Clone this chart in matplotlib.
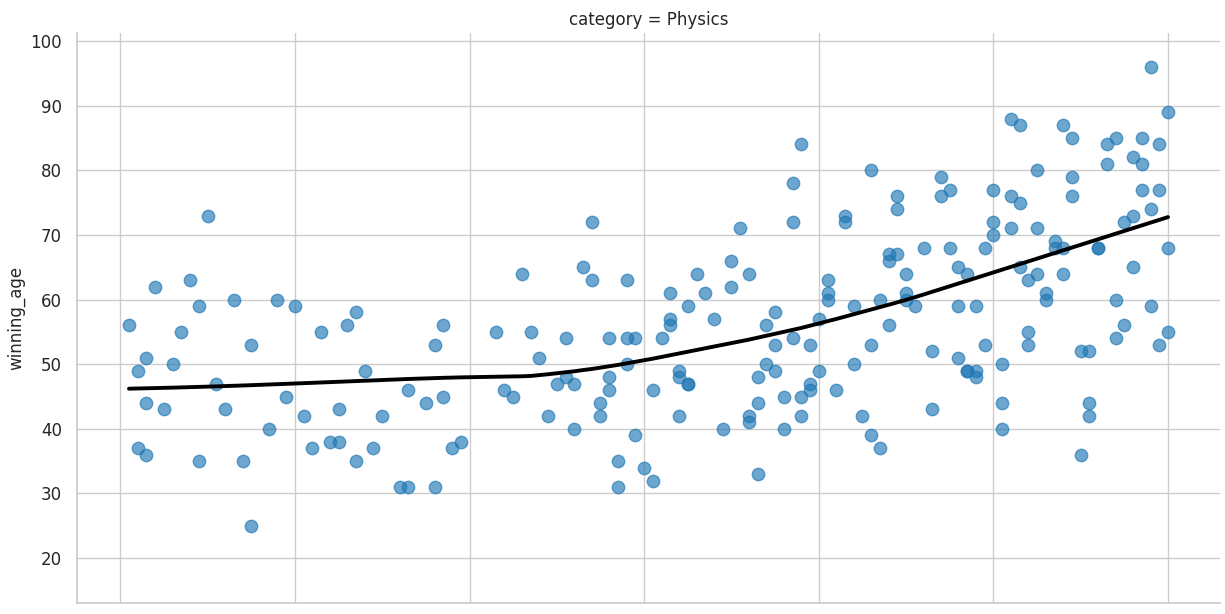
import numpy as np
import matplotlib
matplotlib.use('Agg')
import matplotlib.pyplot as plt
import seaborn as sns

# Nobel prize, Physics: year of award and age of the winner
year = [1901, 1902, 1902, 1903, 1903, 1903, 1904, 1905, 1906, 1907, 1908, 1909, 1909,
        1910, 1911, 1912, 1913, 1914, 1915, 1915, 1917, 1918, 1919, 1920, 1921, 1922,
        1923, 1924, 1925, 1925, 1926, 1927, 1927, 1928, 1929, 1930, 1932, 1933, 1933,
        1935, 1936, 1936, 1937, 1937, 1938, 1939, 1943, 1944, 1945, 1946, 1947, 1948,
        1949, 1950, 1951, 1951, 1952, 1952, 1953, 1954, 1954, 1955, 1955, 1956, 1956,
        1956, 1957, 1957, 1958, 1958, 1958, 1959, 1959, 1960, 1961, 1961, 1962, 1963,
        1963, 1963, 1964, 1964, 1964, 1965, 1965, 1965, 1966, 1967, 1968, 1969, 1970,
        1970, 1971, 1972, 1972, 1972, 1973, 1973, 1973, 1974, 1974, 1975, 1975, 1975,
        1976, 1976, 1977, 1977, 1977, 1978, 1978, 1978, 1979, 1979, 1979, 1980, 1980,
        1981, 1981, 1981, 1982, 1983, 1983, 1984, 1984, 1985, 1986, 1986, 1986, 1987,
        1987, 1988, 1988, 1988, 1989, 1989, 1989, 1990, 1990, 1990, 1991, 1992, 1993,
        1993, 1994, 1994, 1995, 1995, 1996, 1996, 1996, 1997, 1997, 1997, 1998, 1998,
        1998, 1999, 1999, 2000, 2000, 2000, 2001, 2001, 2001, 2002, 2002, 2002, 2003,
        2003, 2003, 2004, 2004, 2004, 2005, 2005, 2005, 2006, 2006, 2007, 2007, 2008,
        2008, 2008, 2009, 2009, 2009, 2010, 2010, 2011, 2011, 2011, 2012, 2012, 2013,
        2013, 2014, 2014, 2014, 2015, 2015, 2016, 2016, 2016, 2017, 2017, 2017, 2018,
        2018, 2018, 2019, 2019, 2019, 2020, 2020, 2020]
winning_age = [56, 49, 37, 51, 44, 36, 62, 43, 50, 55, 63, 59, 35,
               73, 47, 43, 60, 35, 53, 25, 40, 60, 45, 59, 42, 37,
               55, 38, 43, 38, 56, 58, 35, 49, 37, 42, 31, 46, 31,
               44, 53, 31, 56, 45, 37, 38, 55, 46, 45, 64, 55, 51,
               42, 47, 54, 48, 47, 40, 65, 72, 63, 44, 42, 54, 48,
               46, 35, 31, 63, 54, 50, 54, 39, 34, 46, 32, 54, 61,
               57, 56, 49, 48, 42, 59, 47, 47, 64, 61, 57, 40, 66,
               62, 71, 64, 42, 41, 48, 44, 33, 56, 50, 58, 53, 49,
               45, 40, 78, 72, 54, 84, 45, 42, 53, 47, 46, 57, 49,
               63, 61, 60, 46, 73, 72, 59, 50, 42, 80, 53, 39, 60,
               37, 67, 66, 56, 76, 74, 67, 64, 61, 60, 59, 68, 52,
               43, 79, 76, 77, 68, 65, 59, 51, 64, 49, 49, 59, 49,
               48, 68, 53, 77, 72, 70, 50, 44, 40, 88, 76, 71, 87,
               75, 65, 63, 55, 53, 80, 71, 64, 61, 60, 69, 68, 87,
               68, 64, 85, 79, 76, 52, 36, 52, 44, 42, 68, 68, 84,
               81, 85, 60, 54, 72, 56, 82, 73, 65, 85, 81, 77, 96,
               74, 59, 84, 77, 53, 89, 68, 55]
category = 'Physics'


def lowess(x, y, frac=2/3, it=3):
    # plain locally weighted linear regression with robustness iterations
    order = np.argsort(x, kind='stable')
    x = np.asarray(x, float)[order]
    y = np.asarray(y, float)[order]
    n = len(x)
    k = int(frac * n + 1e-10)
    robust = np.ones(n)
    fitted = np.empty(n)
    for _ in range(it + 1):
        for i in range(n):
            d = np.abs(x - x[i])
            h = np.sort(d)[k - 1]
            w = np.clip(d / h, 0, 1)
            w = (1 - w ** 3) ** 3 * robust
            sw = w.sum()
            xm = (w * x).sum() / sw
            ym = (w * y).sum() / sw
            b = (w * (x - xm) * (y - ym)).sum() / (w * (x - xm) ** 2).sum()
            fitted[i] = ym + b * (x[i] - xm)
        res = y - fitted
        s = np.median(np.abs(res))
        u = np.clip(res / (6 * s), -1, 1)
        robust = (1 - u ** 2) ** 2
    return x, fitted


sns.set_theme(style='whitegrid')
plt.rcParams['font.family'] = ['DejaVu Sans']

fig = plt.figure(figsize=(12.25, 6.14), dpi=100)
ax = fig.add_axes([0.0629, 0.0174, 0.9330, 0.9289])

ax.scatter(year, winning_age, s=80, color='#1f77b4', alpha=0.65,
           linewidths=1, zorder=2)
gx, gy = lowess(year, winning_age)
ax.plot(gx, gy, color='black', lw=2.8, zorder=3)

ax.set_xlim(1895.05, 2025.95)
ax.set_ylim(13.0, 101.25)
ax.set_xticks(np.arange(1900, 2021, 20))
ax.set_yticks(np.arange(20, 101, 10))
ax.tick_params(axis='both', length=0, pad=10.8, labelsize=12, colors='.15')
ax.set_ylabel('winning_age', fontsize=12, color='.15')
ax.set_xlabel('year', fontsize=12, color='.15')
ax.set_title(f'category = {category}', fontsize=12, color='.15')
sns.despine(ax=ax)
for sp in ax.spines.values():
    sp.set_color('.8')

fig.savefig('out.png', dpi=100)
